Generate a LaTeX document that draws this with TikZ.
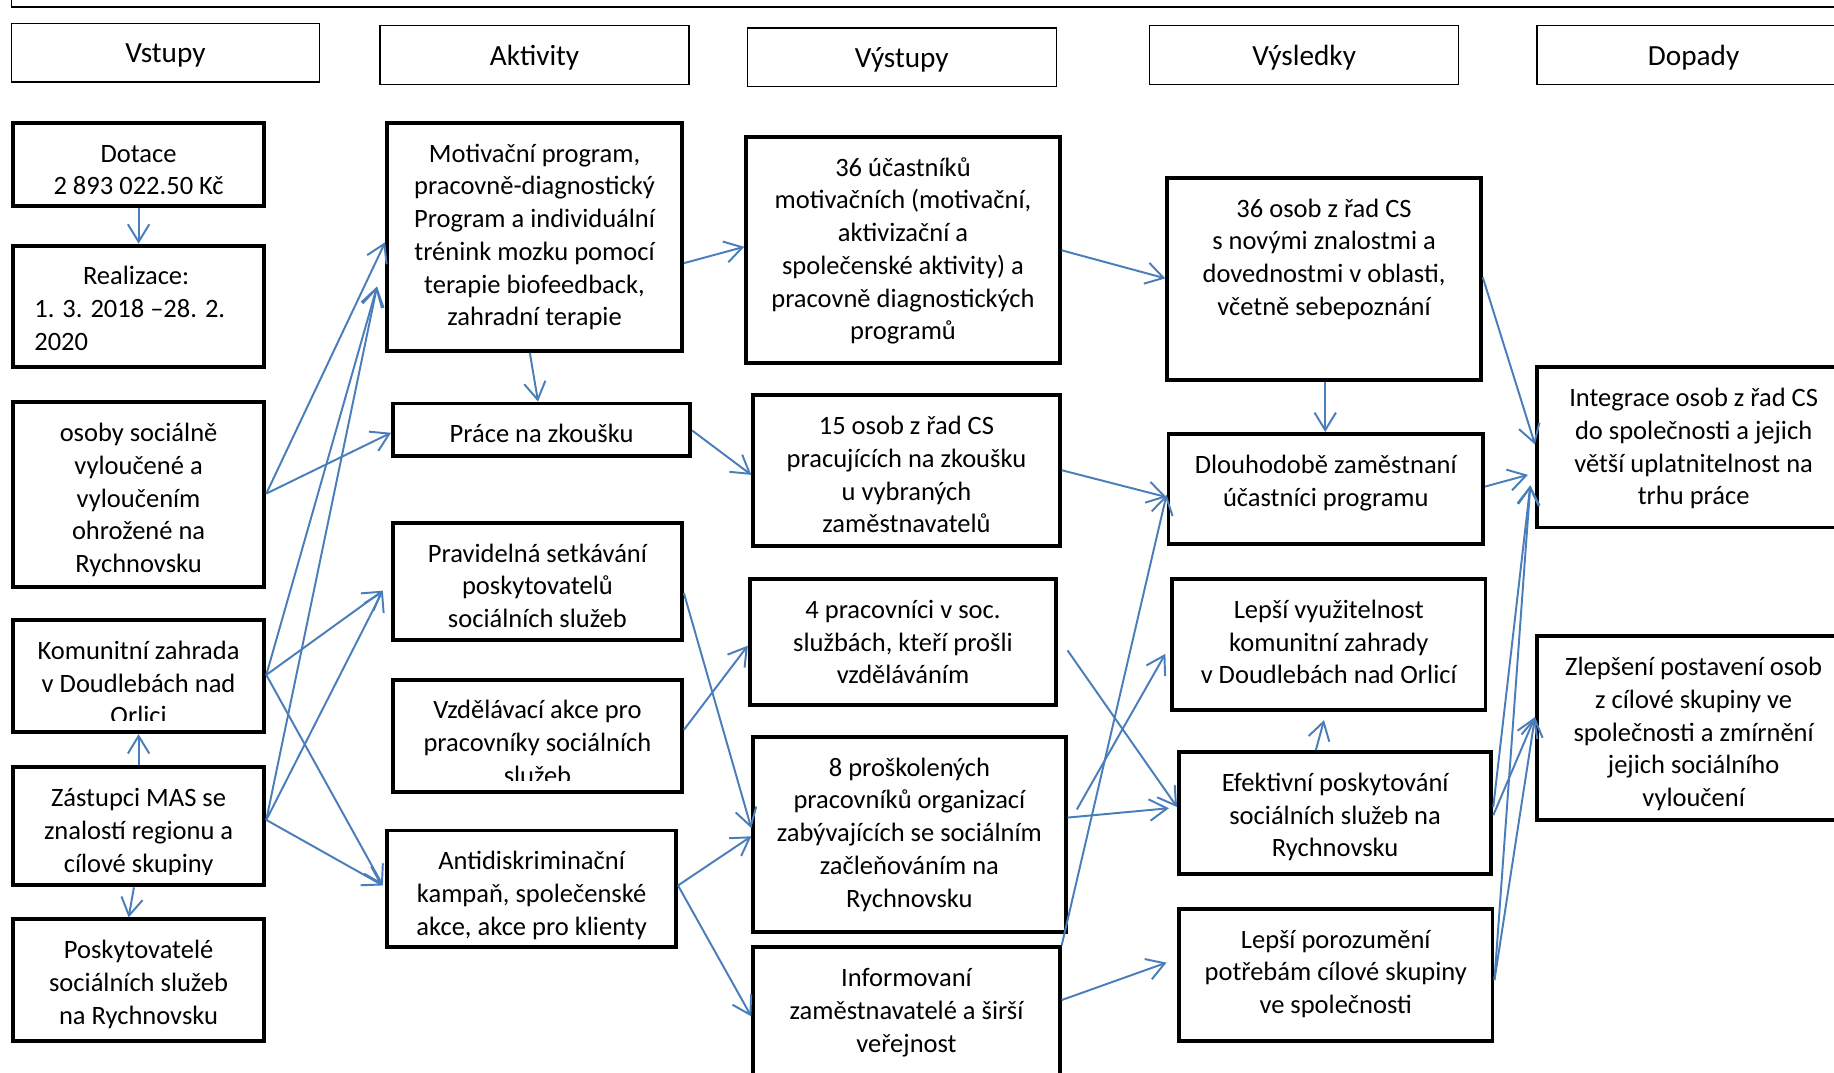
\documentclass[tikz,border=0pt]{standalone}
\usepackage{fontspec}
\setmainfont{Carlito}
\usetikzlibrary{arrows.meta,calc}
\definecolor{arrowblue}{HTML}{4A7EBB}
\newcommand\bodyfont{\fontsize{13.6}{16.8}\selectfont}
\newcommand\headfont{\fontsize{15}{18}\selectfont}
\newcommand\fstrut{\rule{0pt}{11.76pt}}
\newcommand\bx[7][]{\node[box,#1,minimum width={(#5-#3)*0.6pt},minimum height={(#6-#4)*0.6pt}] (#2) at ({(#3+#5)/2},{(#4+#6)/2}) {#7};}
\newcommand\bxt[6]{\bx{#1}{#2}{#3}{#4}{#5}{}\node[txt,anchor=north] (#1-t) at ({(#2+#4)/2},{#3+13.7}) {\fstrut#6};}
\newcommand\hbxt[6]{\bx[hbox]{#1}{#2}{#3}{#4}{#5}{}\node[txt,font=\headfont,anchor=north] (#1-t) at ({(#2+#4)/2},{#3+13.7}) {\fstrut#6};}
\begin{document}
\begin{tikzpicture}[x=0.6pt,y=-0.6pt,
 box/.style={draw=black,line width=2pt,inner sep=0pt,align=center,font=\bodyfont},
 hbox/.style={line width=0.7pt},
 txt/.style={inner sep=0pt,align=center,font=\bodyfont},
 arr/.style={draw=arrowblue,line width=1pt,-{Straight Barb[length=9pt,width=11pt]}}]
\useasboundingbox (0,0) rectangle (1568,917);
\clip (0,0) rectangle (1568,917);
\fill[white] (0,0) rectangle (1568,917);
\draw[line width=0.7pt] (10,-2) -- (10,6) -- (1570,6);
% headers
\hbxt{hv}{10}{20}{273}{70}{Vstupy}
\hbxt{ha}{325}{22}{589}{72}{Aktivity}
\hbxt{hvy}{639}{24}{903}{74}{Výstupy}
\hbxt{hvs}{983}{22}{1247}{72}{Výsledky}
\hbxt{hd}{1314}{22}{1582}{72}{Dopady}
% column 1
\bxt{dot}{11}{105}{226}{176}{Dotace\\2 893 022.50 Kč}
\bx{real}{11}{210}{226}{314}{}
\node[txt,align=left,anchor=north west] (real-t) at (29,223.7) {\fstrut\hspace*{25pt}Realizace:\\1. 3. 2018 –28. 2.\\2020};
\bxt{osoby}{11}{344}{226}{502}{osoby sociálně\\vyloučené a\\vyloučením\\ohrožené na\\Rychnovsku}
\bx{komu}{11}{530}{226}{626}{}
\begin{scope}
\clip (11,530) rectangle (226,616);
\node[txt,anchor=north] (komu-t) at (118.5,543.7) {\fstrut Komunitní zahrada\\v Doudlebách nad\\Orlici};
\end{scope}
\bx{zast}{11}{656}{226}{757}{}
\begin{scope}
\clip (11,656) rectangle (226,748);
\node[txt,anchor=north] (zast-t) at (118.5,669.7) {\fstrut Zástupci MAS se\\znalostí regionu a\\cílové skupiny};
\end{scope}
\bxt{posk}{11}{786}{226}{890}{Poskytovatelé\\sociálních služeb\\na Rychnovsku}
% column 2
\bxt{motiv}{331}{105}{583}{300}{Motivační program,\\pracovně-diagnostický\\Program a individuální\\trénink mozku pomocí\\terapie biofeedback,\\zahradní terapie}
\bxt{prace}{336}{345}{590}{390}{Práce na zkoušku}
\bxt{prav}{336}{447}{583}{547}{Pravidelná setkávání\\poskytovatelů\\sociálních služeb}
\bx{vzdel}{336}{581}{583}{677}{}
\begin{scope}
\clip (336,581) rectangle (583,667);
\node[txt,anchor=north] (vzdel-t) at (459.5,594.7) {\fstrut Vzdělávací akce pro\\pracovníky sociálních\\služeb};
\end{scope}
\bxt{anti}{331}{710}{578}{810}{Antidiskriminační\\kampaň, společenské\\akce, akce pro klienty}
% column 3
\bxt{ucast}{638}{117}{906}{310}{36 účastníků\\motivačních (motivační,\\aktivizační a\\společenské aktivity) a\\pracovně diagnostických\\programů}
\bxt{osob15}{644}{338}{906}{467}{15 osob z řad CS\\pracujících na zkoušku\\u vybraných\\zaměstnavatelů}
\bxt{prac4}{641}{495}{903}{603}{4 pracovníci v soc.\\službách, kteří prošli\\vzděláváním}
\bxt{prosk}{644}{630}{911}{797}{8 proškolených\\pracovníků organizací\\zabývajících se sociálním\\začleňováním na\\Rychnovsku}
\bxt{inform}{644}{810}{906}{922}{Informovaní\\zaměstnavatelé a širší\\veřejnost}
% column 4
\bxt{osob36}{998}{152}{1266}{325}{36 osob z řad CS\\s novými znalostmi a\\dovednostmi v oblasti,\\včetně sebepoznání}
\bxt{dlouh}{999}{371}{1268}{465}{Dlouhodobě zaměstnaní\\účastníci programu}
\bxt{vyuz}{1002}{495}{1270}{607}{Lepší využitelnost\\komunitní zahrady\\v Doudlebách nad Orlicí}
\bxt{efekt}{1008}{643}{1275}{747}{Efektivní poskytování\\sociálních služeb na\\Rychnovsku}
\bxt{poroz}{1008}{777}{1276}{890}{Lepší porozumění\\potřebám cílové skupiny\\ve společnosti}
% column 5
\bxt{integ}{1314}{314}{1582}{451}{Integrace osob z řad CS\\do společnosti a jejich\\větší uplatnitelnost na\\trhu práce}
\bxt{zlep}{1314}{544}{1582}{701}{Zlepšení postavení osob\\z cílové skupiny ve\\společnosti a zmírnění\\jejich sociálního\\vyloučení}
% arrows
\draw[arr] (dot.south) -- (real.north);
\draw[arr] (motiv.south -| 453,0) -- (prace.north -| 460,0);
\draw[arr] (zast.north) -- (komu.south);
\draw[arr] (zast.south -| 114.5,0) -- (posk.north -| 110,0);
\draw[arr] (osoby.east |- 0,422) -- (motiv.west |- 0,207);
\draw[arr] (osoby.east |- 0,422) -- (prace.west |- 0,370);
\coordinate (mIn) at ($(motiv.west |- 0,245)+(-7,0)$);
\draw[arr] (komu.east |- 0,577) -- (mIn);
\draw[arr] (zast.east |- 0,701) -- (mIn);
\coordinate (pIn) at ($(prav.west |- 0,505)+(-7,0)$);
\draw[arr] (komu.east |- 0,577) -- (pIn);
\draw[arr] (zast.east |- 0,701) -- (pIn);
\coordinate (aIn) at ($(anti.west |- 0,757)+(-2,0)$);
\draw[arr] (komu.east |- 0,577) -- (aIn);
\draw[arr] (zast.east |- 0,701) -- (aIn);
\draw[arr] (motiv.east |- 0,225) -- (ucast.west |- 0,211);
\draw[arr] (prace.east |- 0,368) -- (osob15.west |- 0,406);
\draw[arr] (prav.east |- 0,507) -- (prosk.west |- 0,708);
\draw[arr] (vzdel.east |- 0,624) -- (prac4.west |- 0,552);
\draw[arr] (anti.east |- 0,757) -- (prosk.west |- 0,715);
\draw[arr] (anti.east |- 0,757) -- (inform.west |- 0,869);
\draw[arr] (ucast.east |- 0,214) -- (osob36.west |- 0,238);
\draw[arr] (osob15.east |- 0,402) -- (dlouh.west |- 0,425);
\draw[arr] ($(prac4.east |- 0,556)+(8,0)$) -- (efekt.west |- 0,690);
\draw[arr] ($(prosk.east |- 0,692)+(8,0)$) -- ($(vyuz.west |- 0,559)+(-4,0)$);
\draw[arr] (prosk.east |- 0,699) -- ($(efekt.west |- 0,691)+(-7,0)$);
\draw[arr] (inform.north east) -- (dlouh.west |- 0,423);
\draw[arr] (inform.east |- 0,855) -- ($(poroz.west |- 0,823)+(-9,0)$);
\draw[arr] (osob36.south -| 1133,0) -- (dlouh.north -| 1133,0);
\draw[arr] (efekt.north -| 1125,0) -- ($(vyuz.south -| 1132,0)+(0,7)$);
\draw[arr] (osob36.east |- 0,237) -- (integ.west |- 0,380);
\draw[arr] (dlouh.east |- 0,416) -- ($(integ.west |- 0,406)+(-6,0)$);
\coordinate (iIn) at ($(integ.west |- 0,415)+(-4,0)$);
\draw[arr] (efekt.east |- 0,690) -- (iIn);
\draw[arr] (poroz.east |- 0,838) -- (iIn);
\draw[arr] (efekt.east |- 0,697) -- (zlep.west |- 0,613);
\draw[arr] (poroz.east |- 0,838) -- (zlep.west |- 0,613);
\end{tikzpicture}
\end{document}
